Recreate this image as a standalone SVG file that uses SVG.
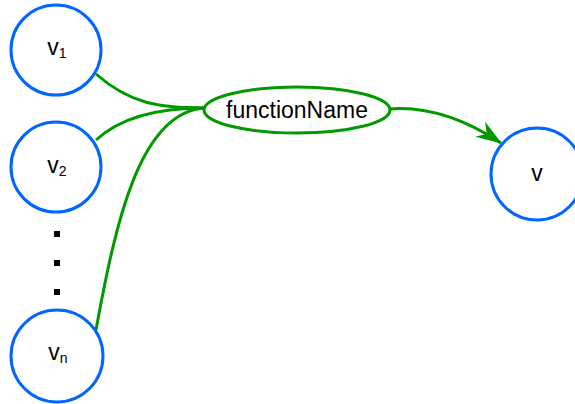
<svg xmlns="http://www.w3.org/2000/svg" width="575" height="404" viewBox="0 0 575 404">
<defs>
<style>
.node{fill:#fff;stroke:#0066ff;stroke-width:3}
.fn{fill:#fff;stroke:#009900;stroke-width:3}
.edge{fill:none;stroke:#009900;stroke-width:3}
text{font-family:"Liberation Sans",Arial,sans-serif;font-size:23px;fill:#000;text-anchor:middle}
.sub{font-size:14px}
</style>
<marker id="arrow" viewBox="0 0 26 18" refX="25" refY="9" markerWidth="26" markerHeight="18" markerUnits="userSpaceOnUse" orient="auto">
<path d="M0,0 L26,9 L0,18 L8,9 Z" fill="#009900"/>
</marker>
</defs>
<rect width="575" height="404" fill="#fff"/>
<g id="connectors">
<path class="edge" d="M96,74 C130,104 160,108 204,108"/>
<path class="edge" d="M96,140 C122,116 160,108 204,108"/>
<path class="edge" d="M96,330 C116,220 140,113 204,108"/>
<path class="edge" d="M390,109 C430,106 466,120 501,143" marker-end="url(#arrow)"/>
</g>
<g id="v1">
<circle class="node" cx="56" cy="50" r="45"/>
<text x="57" y="55">v<tspan class="sub" dy="3">1</tspan></text>
</g>
<g id="v2">
<circle class="node" cx="56" cy="167" r="45"/>
<text x="57" y="173">v<tspan class="sub" dy="3">2</tspan></text>
</g>
<g id="dots">
<rect x="54" y="231" width="6" height="6" fill="#000"/>
<rect x="54" y="260" width="6" height="6" fill="#000"/>
<rect x="54" y="289" width="6" height="6" fill="#000"/>
</g>
<g id="vn">
<circle class="node" cx="57" cy="356" r="46"/>
<text x="58" y="360">v<tspan class="sub" dy="3">n</tspan></text>
</g>
<g id="functionName">
<ellipse class="fn" cx="297" cy="110" rx="93" ry="23"/>
<text x="297" y="118">functionName</text>
</g>
<g id="v">
<circle class="node" cx="537" cy="174" r="46"/>
<text x="537" y="181">v</text>
</g>
</svg>
